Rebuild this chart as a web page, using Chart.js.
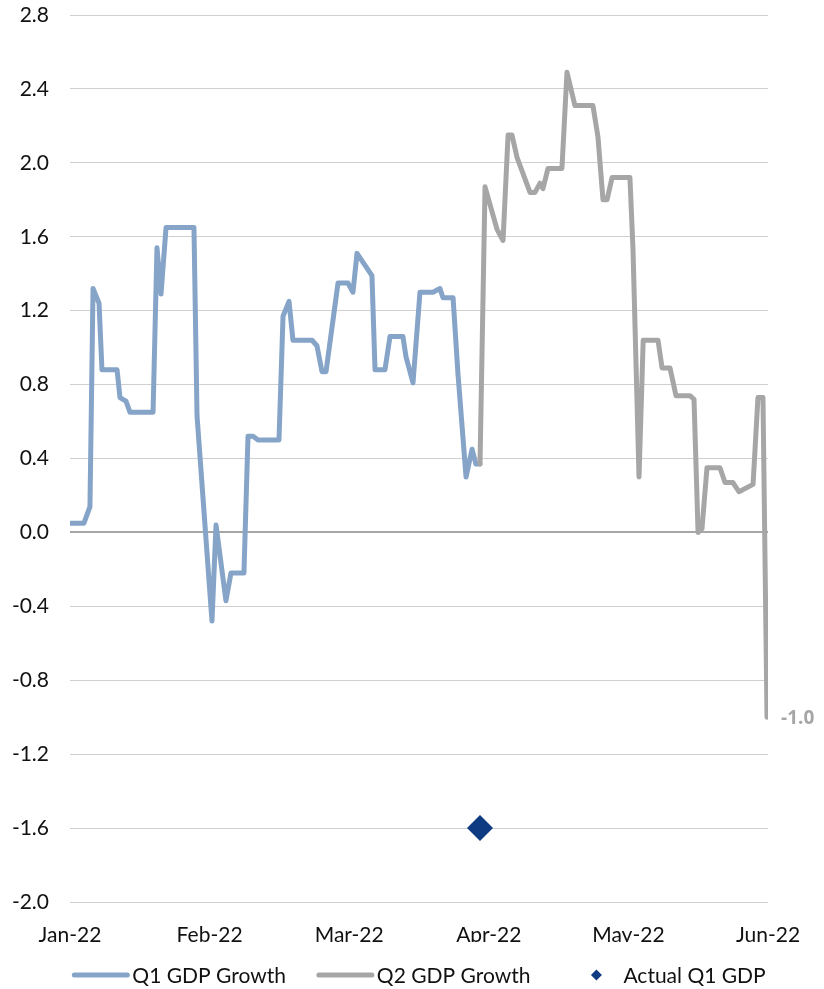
<!DOCTYPE html>
<html>
<head>
<meta charset="utf-8">
<script src="https://cdn.jsdelivr.net/npm/chart.js@4.4.1/dist/chart.umd.min.js"></script>
<style>
  html, body { margin: 0; padding: 0; background: #ffffff; }
  #wrap { width: 824px; height: 989px; }
</style>
</head>
<body>
<div id="wrap"><canvas id="gdp" width="824" height="989"></canvas></div>
<script>
// Month labels along the x axis (x positions are in month units from Jan-22)
const monthLabels = ['Jan-22', 'Feb-22', 'Mar-22', 'Apr-22', 'May-22', 'Jun-22'];

// Q1 nowcast path
const q1X = [0.000, 0.100, 0.143, 0.165, 0.208, 0.229, 0.337, 0.358, 0.401, 0.430,
             0.595, 0.623, 0.652, 0.688, 0.888, 0.910, 1.017, 1.046, 1.117, 1.153,
             1.246, 1.275, 1.311, 1.347, 1.497, 1.526, 1.569, 1.597, 1.734, 1.769,
             1.805, 1.834, 1.920, 1.991, 2.027, 2.056, 2.163, 2.185, 2.256, 2.292,
             2.385, 2.407, 2.457, 2.507, 2.600, 2.650, 2.672, 2.744, 2.779, 2.837,
             2.880, 2.908, 2.937];
const q1Y = [0.05, 0.05, 0.14, 1.32, 1.24, 0.88, 0.88, 0.73, 0.71, 0.65,
             0.65, 1.54, 1.29, 1.65, 1.65, 0.63, -0.48, 0.04, -0.37, -0.22,
             -0.22, 0.52, 0.52, 0.50, 0.50, 1.17, 1.25, 1.04, 1.04, 1.01,
             0.87, 0.87, 1.35, 1.35, 1.30, 1.51, 1.39, 0.88, 0.88, 1.06,
             1.06, 0.95, 0.81, 1.30, 1.30, 1.32, 1.27, 1.27, 0.86, 0.30,
             0.45, 0.37, 0.37];

// Q2 nowcast path
const q2X = [2.937, 2.973, 3.059, 3.102, 3.138, 3.166, 3.202, 3.295, 3.331, 3.367,
             3.388, 3.424, 3.524, 3.560, 3.617, 3.746, 3.782, 3.818, 3.847, 3.883,
             4.011, 4.033, 4.076, 4.106, 4.212, 4.241, 4.298, 4.341, 4.441, 4.470,
             4.499, 4.527, 4.563, 4.656, 4.692, 4.749, 4.792, 4.893, 4.928, 4.964,
             4.993];
const q2Y = [0.37, 1.87, 1.64, 1.58, 2.15, 2.15, 2.03, 1.84, 1.84, 1.89,
             1.86, 1.97, 1.97, 2.49, 2.31, 2.31, 2.14, 1.80, 1.80, 1.92,
             1.92, 1.53, 0.30, 1.04, 1.04, 0.89, 0.89, 0.74, 0.74, 0.72,
             0.00, 0.02, 0.35, 0.35, 0.27, 0.27, 0.22, 0.26, 0.73, 0.73,
             -1.00];

// Released Q1 GDP figure
const actualX = [2.937];
const actualY = [-1.6];

const seriesNames = ['Q1 GDP Growth', 'Q2 GDP Growth', 'Actual Q1 GDP'];
const colors = { q1: '#85a4c8', q2: '#a6a6a6', actual: '#0f3b82', text: '#111111' };
const FONT = 'Lato, "Liberation Sans", sans-serif';
const FONT_SIZE = 21;

const toPoints = (xs, ys) => xs.map((x, i) => ({ x: x, y: ys[i] }));

// Value label next to the last point of the Q2 series
const endLabel = {
  id: 'endLabel',
  afterDatasetsDraw(chart) {
    const meta = chart.getDatasetMeta(1);
    const last = meta.data[meta.data.length - 1];
    const v = chart.data.datasets[1].data[meta.data.length - 1].y;
    const ctx = chart.ctx;
    ctx.save();
    ctx.font = 'bold 19px "Open Sans", "Liberation Sans", sans-serif';
    ctx.fillStyle = colors.q2;
    ctx.textAlign = 'left';
    ctx.textBaseline = 'middle';
    ctx.fillText(v.toFixed(1), last.x + 14, last.y + 1);
    ctx.restore();
  }
};

// Legend row under the axis
const bottomLegend = {
  id: 'bottomLegend',
  afterDraw(chart) {
    const ctx = chart.ctx;
    const ds = chart.data.datasets;
    const y = 975;
    ctx.save();
    ctx.font = FONT_SIZE + 'px ' + FONT;
    ctx.textBaseline = 'middle';
    ctx.textAlign = 'left';
    const sampleW = [57, 57, 59];
    const textGap = 3;
    const itemGap = 31;
    const widths = ds.map((d, i) => sampleW[i] + textGap + ctx.measureText(d.label).width);
    const total = widths.reduce((a, b) => a + b, 0) + itemGap * (ds.length - 1);
    let x = (chart.chartArea.left + chart.chartArea.right) / 2 - total / 2;
    ds.forEach((d, i) => {
      if (d.showLine === false) {
        const cx = x + 35, r = 5.5;
        ctx.fillStyle = d.backgroundColor;
        ctx.beginPath();
        ctx.moveTo(cx, y - r); ctx.lineTo(cx + r, y); ctx.lineTo(cx, y + r); ctx.lineTo(cx - r, y);
        ctx.closePath();
        ctx.fill();
      } else {
        ctx.strokeStyle = d.borderColor;
        ctx.lineWidth = 5;
        ctx.lineCap = 'round';
        ctx.beginPath();
        ctx.moveTo(x + 2, y);
        ctx.lineTo(x + sampleW[i] - 2, y);
        ctx.stroke();
      }
      ctx.fillStyle = colors.text;
      ctx.fillText(d.label, x + sampleW[i] + textGap, y + 1);
      x += widths[i] + itemGap;
    });
    ctx.restore();
  }
};

new Chart(document.getElementById('gdp'), {
  type: 'line',
  data: {
    datasets: [
      {
        label: seriesNames[0],
        data: toPoints(q1X, q1Y),
        borderColor: colors.q1,
        backgroundColor: colors.q1,
        borderWidth: 5,
        borderJoinStyle: 'round',
        borderCapStyle: 'round',
        pointRadius: 0,
        tension: 0,
        order: 2
      },
      {
        label: seriesNames[1],
        data: toPoints(q2X, q2Y),
        borderColor: colors.q2,
        backgroundColor: colors.q2,
        borderWidth: 5,
        borderJoinStyle: 'round',
        borderCapStyle: 'round',
        pointRadius: 0,
        tension: 0,
        order: 1
      },
      {
        label: seriesNames[2],
        data: toPoints(actualX, actualY),
        showLine: false,
        pointStyle: 'rectRot',
        pointRadius: 13,
        pointBorderWidth: 0,
        backgroundColor: colors.actual,
        borderColor: colors.actual,
        order: 0
      }
    ]
  },
  options: {
    responsive: false,
    devicePixelRatio: 1,
    animation: false,
    layout: { padding: { top: 15, right: 56, bottom: 47, left: 0 } },
    plugins: {
      legend: { display: false },
      tooltip: { enabled: false }
    },
    scales: {
      x: {
        type: 'linear',
        min: 0,
        max: 5,
        afterFit(scale) { scale.height = 40; },
        afterBuildTicks(scale) {
          scale.ticks = monthLabels.map((_, i) => ({ value: i }));
        },
        grid: { display: false, drawTicks: false },
        border: { display: false },
        ticks: {
          padding: 21,
          maxRotation: 0,
          autoSkip: false,
          color: colors.text,
          font: { family: FONT, size: FONT_SIZE },
          callback: (v) => monthLabels[v]
        }
      },
      y: {
        min: -2.0,
        max: 2.8,
        afterFit(scale) {
          scale.width = 70;
          scale.paddingTop = 0;
          scale.paddingBottom = 0;
        },
        grid: {
          drawTicks: false,
          color: (c) => (Math.abs(c.tick.value) < 1e-9 ? '#a6a6a6' : '#d0d0d0'),
          lineWidth: (c) => (Math.abs(c.tick.value) < 1e-9 ? 2 : 1)
        },
        border: { display: false },
        ticks: {
          stepSize: 0.4,
          padding: 21,
          color: colors.text,
          font: { family: FONT, size: FONT_SIZE },
          callback: (v) => (Math.round(v * 10) / 10 + 0).toFixed(1)
        }
      }
    }
  },
  plugins: [endLabel, bottomLegend]
});
</script>
</body>
</html>
